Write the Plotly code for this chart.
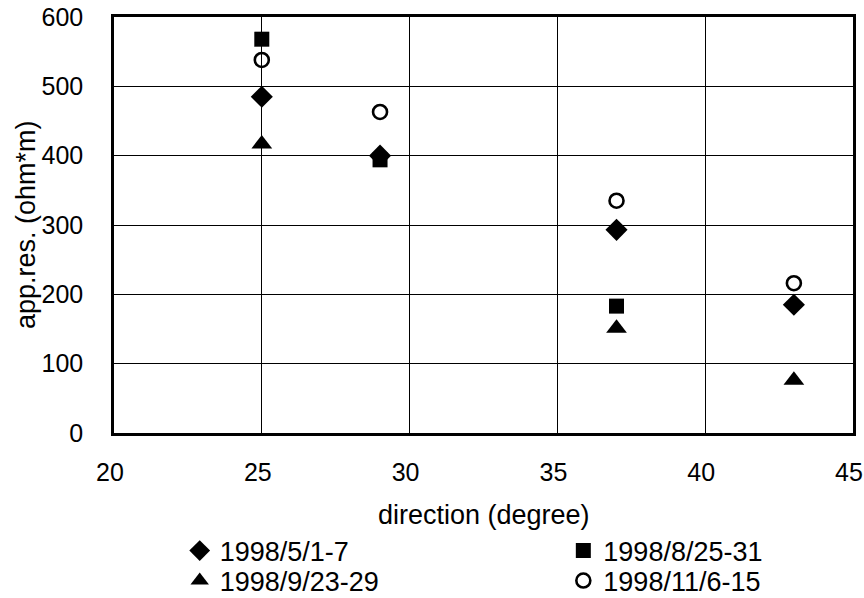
import plotly.graph_objects as go

# Apparent resistivity by direction for four survey periods
directions = [25, 29, 37, 43]
periods = ["1998/5/1-7", "1998/8/25-31", "1998/9/23-29", "1998/11/6-15"]
res_may = [485, 400, 293, 185]
res_aug = [568, 394, 183, None]
res_sep = [417, None, 151, 76]
res_nov = [538, 463, 335, 216]

x_title = "direction (degree)"
y_title = "app.res. (ohm*m)"

# (name, values, marker, legend id)
series = [
    (periods[0], res_may, dict(symbol="diamond", size=17, color="black"), "legend"),
    (periods[1], res_aug, dict(symbol="square", size=15, color="black"), "legend2"),
    (periods[2], res_sep, dict(symbol="triangle-up", size=18, color="black"), "legend3"),
    (periods[3], res_nov, dict(symbol="circle-open", size=14, color="black",
                               line=dict(width=2.6, color="black")), "legend4"),
]

fig = go.Figure()
for name, vals, mk, lg in series:
    fig.add_trace(go.Scatter(x=directions, y=vals, mode="markers", name=name,
                             marker=mk, legend=lg))

tick_font = dict(family="Liberation Sans, Arial", size=25, color="black")
title_font = dict(family="Liberation Sans, Arial", size=27, color="black")
legend_font = dict(family="Liberation Sans, Arial", size=27, color="black")

legend_common = dict(orientation="v", xref="container", yref="container",
                     xanchor="left", yanchor="middle", font=legend_font,
                     itemsizing="trace", tracegroupgap=0, itemwidth=30,
                     bgcolor="rgba(0,0,0,0)")

# two columns, two rows of legend entries
col_x = [0.208, 0.652]
row_y = [0.0786, 0.0284]

fig.update_layout(
    width=864, height=598,
    margin=dict(l=114, r=11, t=17, b=165, autoexpand=False),
    paper_bgcolor="white", plot_bgcolor="white",
    showlegend=True,
    legend=dict(x=col_x[0], y=row_y[0], **legend_common),
    legend2=dict(x=col_x[1], y=row_y[0], **legend_common),
    legend3=dict(x=col_x[0], y=row_y[1], **legend_common),
    legend4=dict(x=col_x[1], y=row_y[1], **legend_common),
    xaxis=dict(range=[20, 45], dtick=5, tick0=20, showgrid=True,
               gridcolor="black", gridwidth=1, zeroline=False,
               showline=True, linecolor="black", linewidth=2.5, mirror=True,
               ticks="outside", ticklen=15, tickcolor="rgba(0,0,0,0)",
               tickfont=tick_font, ticklabelshift=-4),
    yaxis=dict(range=[0, 600], dtick=100, showgrid=True,
               gridcolor="black", gridwidth=1, zeroline=False,
               showline=True, linecolor="black", linewidth=2.5, mirror=True,
               ticks="outside", ticklen=23, tickcolor="rgba(0,0,0,0)",
               tickfont=tick_font),
    annotations=[
        dict(text=x_title, xref="paper", x=0.5, yref="paper", y=-0.197,
             xanchor="center", yanchor="middle", showarrow=False, font=title_font),
        dict(text=y_title, xref="paper", x=-0.119, yref="paper", y=0.5,
             xanchor="center", yanchor="middle", showarrow=False, textangle=-90,
             font=title_font),
    ],
)

fig.write_html("out.html")
